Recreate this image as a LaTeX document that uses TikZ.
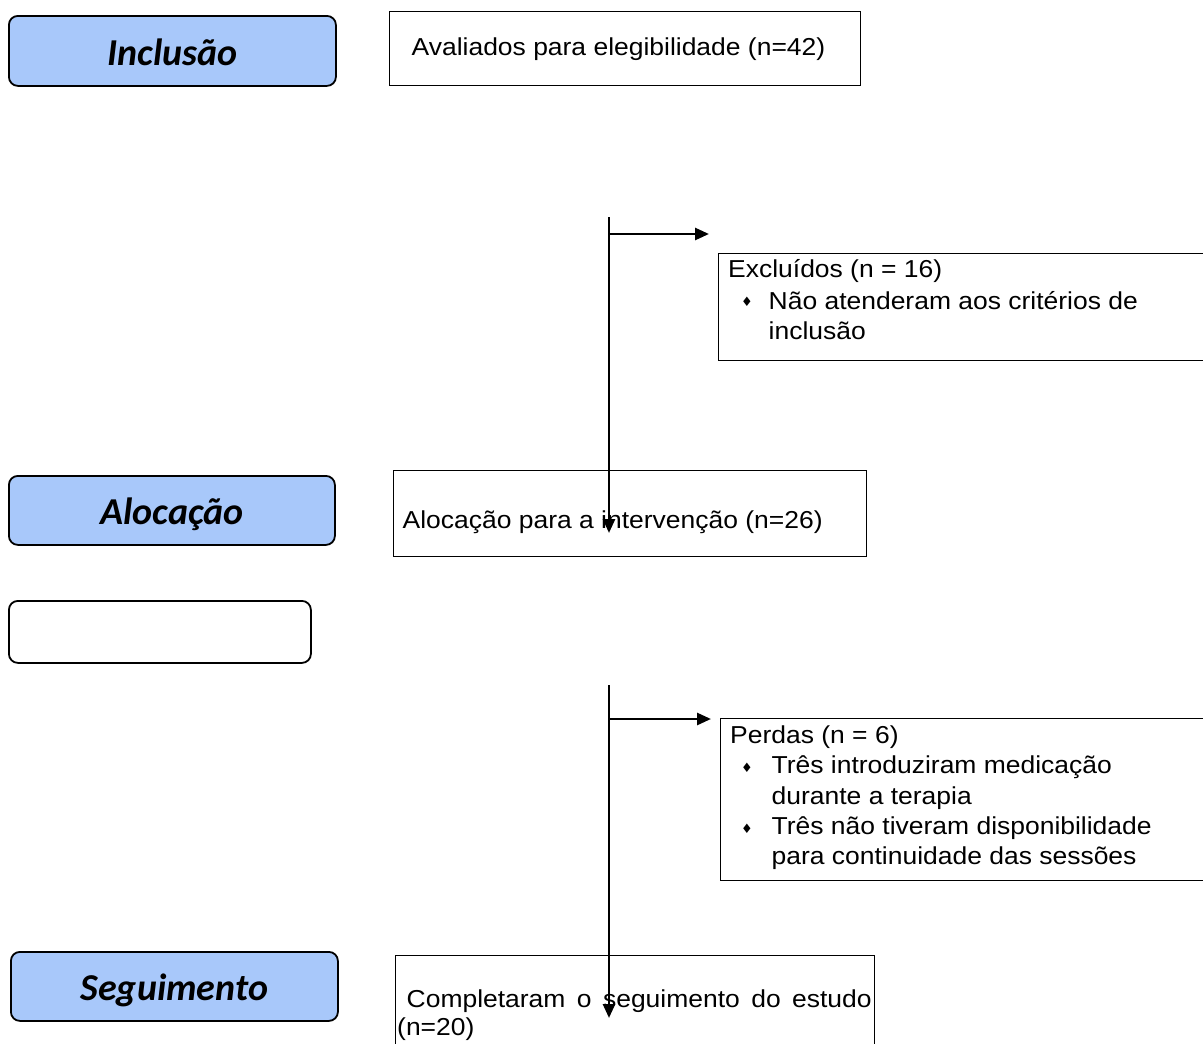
\documentclass[tikz,border=0pt]{standalone}
\usepackage{fontspec}
\setmainfont{Liberation Sans}[FakeStretch=1.08]
\newfontfamily\labfont{Carlito}
\newfontfamily\symfont{DejaVu Sans}
\usetikzlibrary{arrows.meta}
\definecolor{phase}{RGB}{168,200,250}
\begin{document}
\begin{tikzpicture}[x=1pt,y=-1pt,
  phasebox/.style={draw=black, line width=1.8pt, fill=phase, rounded corners=9pt, anchor=north west,
     inner sep=0pt, text height=29pt, text depth=0pt, font=\labfont\bfseries\itshape\fontsize{38}{42}\selectfont},
  plainbox/.style={draw=black, line width=1.4pt, anchor=north west, inner sep=0pt},
  txt/.style={anchor=base west, inner sep=0pt, font=\fontsize{24.5}{30}\selectfont},
  bul/.style={anchor=center, inner sep=0pt, font=\symfont\fontsize{13}{13}\selectfont},
  flow/.style={line width=2.7pt, -{Triangle[length=14pt,width=12pt]}}]
\useasboundingbox (0,0) rectangle (1203,1044);
\clip (0,0) rectangle (1203,1044);
\fill[white] (0,0) rectangle (1203,1044);

% phase labels
\node[phasebox, minimum width=327pt, minimum height=70pt] (incl) at (8,15) {Inclusão};
\node[phasebox, minimum width=326pt, minimum height=69pt] (aloclab) at (8,475) {Alocação};
\node[draw=black, line width=1.8pt, rounded corners=9pt, anchor=north west, inner sep=0pt,
      minimum width=302pt, minimum height=62pt] (empty) at (8,600) {};
\node[phasebox, minimum width=327pt, minimum height=69pt] (seglab) at (10,951) {Seguimento};

% flow boxes
\node[plainbox, minimum width=471pt, minimum height=74pt] (aval) at (389,11) {};
\node[plainbox, minimum width=500pt, minimum height=107pt] (excl) at (718,253) {};
\node[plainbox, minimum width=473pt, minimum height=86pt] (aloc) at (393,470) {};
\node[plainbox, minimum width=500pt, minimum height=162pt] (perd) at (720,718) {};
\node[plainbox, minimum width=479pt, minimum height=110pt] (comp) at (395,955) {};

% texts
\node[txt] (avalt) at (411.5,55) {Avaliados para elegibilidade (n=42)};

\node[txt] (ex1) at (728,277.5) {Excluídos (n = 16)};
\node[bul] (exb1) at (747,302) {♦};
\node[txt] (ex2) at (768.5,309) {Não atenderam aos critérios de};
\node[txt] (ex3) at (768.5,339.5) {inclusão};

\node[txt] (aloct) at (402.5,528) {Alocação para a intervenção (n=26)};

\node[txt] (pe1) at (730,743.5) {Perdas (n = 6)};
\node[bul] (peb1) at (747,768) {♦};
\node[txt] (pe2) at (771.5,773.5) {Três introduziram medicação};
\node[txt] (pe3) at (771.5,804) {durante a terapia};
\node[bul] (peb2) at (747,829) {♦};
\node[txt] (pe4) at (771.5,834.5) {Três não tiveram disponibilidade};
\node[txt] (pe5) at (771.5,864) {para continuidade das sessões};

\node[txt] (co1) at (406.5,1007.5) {\makebox[465pt][s]{Completaram o seguimento do estudo}};
\node[txt] (co2) at (397,1035.5) {(n=20)};

% connectors
\coordinate (v1top) at (609,217);
\coordinate (v1end) at (609,533);
\coordinate (h1start) at (609,234);
\coordinate (h1end) at (709,234);
\coordinate (v2top) at (609,685);
\coordinate (v2end) at (609,1018);
\coordinate (h2start) at (609,719);
\coordinate (h2end) at (711,719);

\draw[flow] (v1top) -- (v1end);
\draw[flow] (h1start) -- (h1end);
\draw[flow] (v2top) -- (v2end);
\draw[flow] (h2start) -- (h2end);
\end{tikzpicture}
\end{document}
